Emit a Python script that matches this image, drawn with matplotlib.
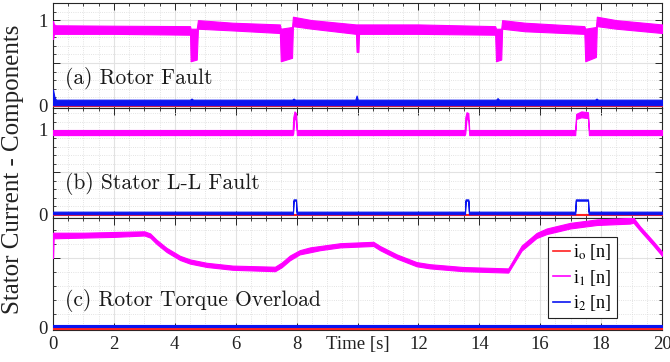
import matplotlib
matplotlib.use("Agg")
import matplotlib.pyplot as plt
from matplotlib.ticker import MultipleLocator, FixedLocator
from matplotlib.lines import Line2D

plt.rcParams['font.family'] = ['Liberation Serif', 'DejaVu Serif']
plt.rcParams['mathtext.fontset'] = 'stix'

# ---------------- data ----------------
# Panel (a) Rotor Fault : i1 envelope
ta = [0, 0.03, 0.1, 2.0, 4.5, 4.52, 4.72, 4.76, 5.9, 7.45, 7.48, 7.85, 7.88, 8.5,
      9.95, 9.97, 10.03, 10.05, 12.0, 14.52, 14.55, 14.72, 14.75, 15.5, 17.45,
      17.48, 17.83, 17.86, 18.5, 20.0]
a_i1_hi = [0.99, 0.95, 0.94, 0.935, 0.93, 0.9, 0.9, 1.0, 0.97, 0.95, 0.9, 0.92, 1.04, 1.0,
           0.95, 0.95, 0.95, 0.95, 0.95, 0.93, 0.9, 0.9, 1.0, 0.97, 0.93,
           0.9, 0.92, 1.04, 1.0, 0.95]
a_i1_lo = [0.78, 0.84, 0.84, 0.84, 0.83, 0.52, 0.54, 0.9, 0.88, 0.85, 0.52, 0.56, 0.93, 0.9,
           0.84, 0.63, 0.63, 0.84, 0.84, 0.83, 0.52, 0.54, 0.9, 0.87, 0.84,
           0.52, 0.57, 0.93, 0.9, 0.85]
tab = [0, 0.05, 0.1, 4.5, 4.55, 4.6, 7.85, 7.9, 7.95, 9.93, 9.97, 10.01,
       14.55, 14.6, 14.65, 17.8, 17.85, 17.9, 20]
a_i2_hi = [0.19, 0.1, 0.072, 0.072, 0.085, 0.072, 0.072, 0.085, 0.072, 0.072, 0.12, 0.072,
           0.072, 0.09, 0.072, 0.072, 0.085, 0.072, 0.072]
a_i2_lo = [0.008] * len(tab)
tar = [0, 20]
a_i0_hi = [0.015, 0.015]
a_i0_lo = [-0.003, -0.003]

# Panel (b) Stator L-L Fault
tb = [0, 7.87, 7.89, 7.93, 7.98, 8.01, 13.52, 13.54, 13.58, 13.64, 13.67,
      17.15, 17.18, 17.35, 17.57, 17.6, 20]
b_i1_hi = [1.0, 1.0, 1.15, 1.22, 1.2, 1.0, 1.0, 1.15, 1.21, 1.2, 1.0,
           1.0, 1.19, 1.22, 1.21, 1.0, 1.0]
b_i1_lo = [0.94, 0.94, 0.96, 1.14, 1.12, 0.94, 0.94, 0.96, 1.13, 1.12, 0.94,
           0.94, 1.13, 1.15, 1.14, 0.94, 0.94]
tbb = [0, 7.88, 7.9, 7.98, 8.0, 13.53, 13.55, 13.64, 13.66, 17.15, 17.17, 17.57, 17.59, 20]
b_i2_hi = [0.035, 0.035, 0.18, 0.18, 0.035, 0.035, 0.18, 0.18, 0.035, 0.035, 0.18, 0.18, 0.035, 0.035]
b_i2_lo = [0.005, 0.005, 0.165, 0.165, 0.005, 0.005, 0.165, 0.165, 0.005, 0.005, 0.165, 0.165, 0.005, 0.005]
tbr = [0, 20]
b_i0_hi = [0.008, 0.008]
b_i0_lo = [-0.008, -0.008]

# Panel (c) Rotor Torque Overload
tc = [0, 0.02, 1.0, 2.0, 3.0, 3.19, 3.4, 3.73, 4.17, 4.5, 5.05, 5.9, 7.29, 7.51, 7.78,
      8.1, 8.44, 8.77, 9.43, 10.52, 10.74, 11.29, 11.94, 12.38, 13.47, 14.95, 15.06,
      15.39, 15.88, 16.21, 16.98, 17.86, 18.95, 19.06, 19.28, 19.71, 20.0]
c_i1_hi = [0.68, 0.68, 0.68, 0.685, 0.69, 0.675, 0.63, 0.572, 0.515, 0.489, 0.465, 0.445,
           0.437, 0.467, 0.517, 0.555, 0.575, 0.585, 0.605, 0.615, 0.585, 0.525, 0.47,
           0.455, 0.435, 0.425, 0.465, 0.588, 0.678, 0.71, 0.75, 0.775, 0.785, 0.788,
           0.725, 0.62, 0.545]
c_i1_lo = [0.5, 0.64, 0.645, 0.65, 0.66, 0.645, 0.6, 0.542, 0.485, 0.459, 0.435, 0.415,
           0.405, 0.433, 0.483, 0.525, 0.54, 0.555, 0.575, 0.585, 0.555, 0.495, 0.44,
           0.425, 0.405, 0.395, 0.435, 0.552, 0.642, 0.67, 0.71, 0.735, 0.745, 0.752,
           0.695, 0.59, 0.515]
tcb = [0, 20]
c_i2_hi = [0.022, 0.022]
c_i2_lo = [0.007, 0.007]
c_i0_hi = [0.006, 0.006]
c_i0_lo = [-0.008, -0.008]

labels = ['(a) Rotor Fault', '(b) Stator L-L Fault', '(c) Rotor Torque Overload']
legend_labels = [r'i$_\mathrm{o}$ [n]', r'i$_\mathrm{1}$ [n]', r'i$_\mathrm{2}$ [n]']
xtick_vals = [0, 2, 4, 6, 8, 10, 12, 14, 16, 18, 20]
xtick_labels = ['0', '2', '4', '6', '8', 'Time [s]', '12', '14', '16', '18', '20']

C_RED = '#ff2020'
C_MAG = '#ff00ff'
C_BLUE = '#0a14f0'

# ---------------- figure ----------------
fig = plt.figure(figsize=(6.70, 3.62), dpi=100)
W, H = 670.0, 362.0
left, right = 53 / W, 662 / W
rows = [(3, 108), (108, 218), (218, 330)]
ylims = [(-0.025, 1.2), (-0.04, 1.26), (-0.015, 0.785)]
label_y = [0.285, 0.315, 0.26]

panels = [
    ((tar, a_i0_lo, a_i0_hi), (ta, a_i1_lo, a_i1_hi), (tab, a_i2_lo, a_i2_hi)),
    ((tbr, b_i0_lo, b_i0_hi), (tb, b_i1_lo, b_i1_hi), (tbb, b_i2_lo, b_i2_hi)),
    ((tcb, c_i0_lo, c_i0_hi), (tc, c_i1_lo, c_i1_hi), (tcb, c_i2_lo, c_i2_hi)),
]

axes = []
for k, (top, bot) in enumerate(rows):
    ax = fig.add_axes([left, 1 - bot / H, right - left, (bot - top) / H])
    axes.append(ax)
    for (t, lo, hi), col in zip(panels[k], [C_RED, C_MAG, C_BLUE]):
        ax.fill_between(t, lo, hi, color=col, lw=0.8, edgecolor=col, zorder=3)
    ax.set_xlim(0, 20)
    ax.set_ylim(*ylims[k])
    ax.xaxis.set_major_locator(FixedLocator(xtick_vals))
    ax.xaxis.set_minor_locator(MultipleLocator(0.5))
    ax.yaxis.set_major_locator(FixedLocator([0, 0.5, 1]))
    ax.yaxis.set_minor_locator(MultipleLocator(0.1))
    ax.set_yticklabels(['0', '', '1'])
    ax.tick_params(which='both', direction='in', top=True, right=True,
                   colors='#262626', labelcolor='#222222', labelsize=13.5)
    ax.tick_params(which='major', length=5, width=0.7, pad=4)
    ax.tick_params(which='minor', length=2.5, width=0.6)
    ax.grid(which='major', color='#e2e2e2', lw=0.8, ls='-', zorder=0)
    ax.grid(which='minor', color='#dadada', lw=0.6, ls=':', zorder=0)
    ax.set_axisbelow(True)
    for s in ax.spines.values():
        s.set_color('#262626')
        s.set_linewidth(0.8)
    if k < 2:
        ax.set_xticklabels([])
    else:
        ax.set_xticklabels(xtick_labels)
    ax.text(0.02, label_y[k], labels[k], transform=ax.transAxes, fontsize=15.5,
            family='cmr10', ha='left', va='center', color='#1a1a1a', zorder=5)

handles = [Line2D([], [], color=c, lw=1.2) for c in [C_RED, C_MAG, C_BLUE]]
leg = axes[2].legend(handles, legend_labels, loc='upper right',
                     bbox_to_anchor=(0.926, 0.833), borderaxespad=0,
                     fontsize=13, handlelength=0.95, handletextpad=0.15,
                     borderpad=0.3, labelspacing=0.3, fancybox=False,
                     framealpha=1, edgecolor='#222222')
leg.get_frame().set_linewidth(0.8)
leg.set_zorder(10)

fig.text(13 / W, 1 - 169 / H, 'Stator Current - Components', rotation=90,
         ha='center', va='center', fontsize=18, color='#222222')

fig.savefig('out.png', dpi=100)
